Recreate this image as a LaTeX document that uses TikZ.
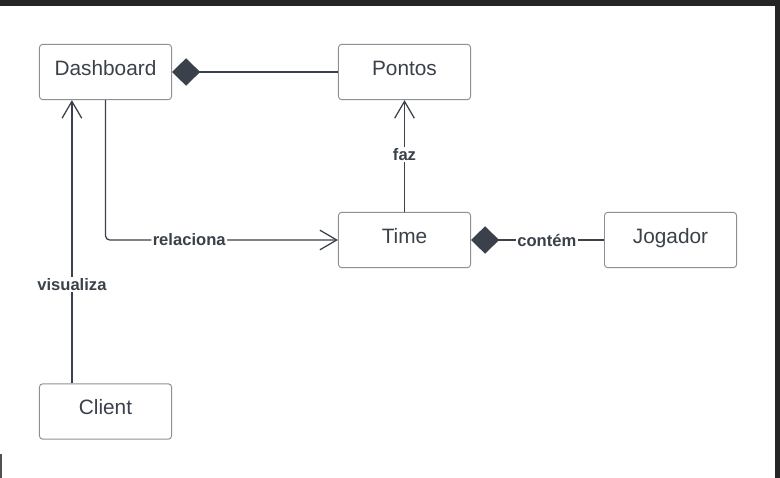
\documentclass[tikz,border=0pt]{standalone}
\usepackage{fontspec}
\setmainfont{Liberation Sans}
\usepackage{xcolor}
\usepackage{tikz}
\usetikzlibrary{arrows.meta}

\definecolor{lineink}{HTML}{3A414A}
\definecolor{boxline}{HTML}{8C9096}
\definecolor{framedark}{HTML}{262626}

\begin{document}
\begin{tikzpicture}[x=0.025cm,y=-0.025cm]

        \tikzstyle{umlclass}=[draw=boxline,line width=0.7pt,rounded corners=2.2pt,minimum width=3.3cm,minimum height=1.38cm,text height=0.66em,text depth=0.2em,text=lineink,font=\fontsize{14.8}{17}\selectfont]
        \tikzstyle{assoc}=[draw=lineink,line width=0.9pt]
        \tikzstyle{navarrow}=[-{Straight Barb[length=12pt,width=14pt]}]
        \tikzstyle{owner}=[{Diamond[length=20pt,width=19.5pt]}-]
        \tikzstyle{rellabel}=[fill=white,inner sep=1pt,text=lineink,font=\bfseries\fontsize{11.8}{14}\selectfont]

        %% screen frame
        \useasboundingbox (0,0) rectangle (780,478);
        \fill[framedark] (0,0) rectangle (780,6);
        \fill[framedark] (775,0) rectangle (780,478);
        \fill[framedark!80] (0,454) rectangle (2,478);

        %% classes
        \node[umlclass] (dashboard) at (105.5,72) {Dashboard};
        \node[umlclass] (pontos) at (404.5,72) {Pontos};
        \node[umlclass] (time) at (404.5,240) {Time};
        \node[umlclass] (jogador) at (670.5,240) {Jogador};
        \node[umlclass] (client) at (105.5,411.5) {Client};

        %% relations
        \draw[assoc,owner] (dashboard.east) -- (pontos.west);
        \draw[assoc,navarrow] (time.north) -- node[rellabel,pos=0.51] {faz} (pontos.south);
        \draw[assoc,navarrow,rounded corners=3pt] (dashboard.south) |- node[rellabel,pos=0.68] {relaciona} (time.west);
        \draw[assoc,navarrow] ([xshift=-0.84cm]client.north) -- node[rellabel,pos=0.35] {visualiza} ([xshift=-0.84cm]dashboard.south);
        \draw[assoc,owner] (time.east) -- node[rellabel,pos=0.57] {contém} (jogador.west);

\end{tikzpicture}
\end{document}
